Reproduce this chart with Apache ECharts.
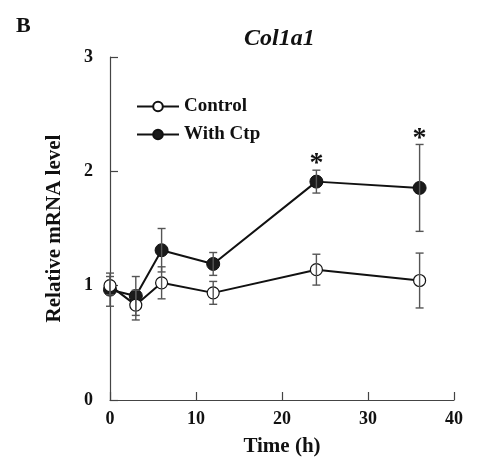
<!DOCTYPE html>
<html>
<head>
<meta charset="utf-8">
<script src="https://cdn.jsdelivr.net/npm/echarts@6/dist/echarts.min.js"></script>
<style>
html,body{margin:0;padding:0;background:#fff;}
#chart{width:500px;height:467px;}
</style>
</head>
<body>
<div id="chart"></div>
<script>
// Data
var times = [0, 3, 6, 12, 24, 36];
var controlMean = [1.00, 0.83, 1.025, 0.937, 1.14, 1.045];
var controlErr  = [0.08, 0.13, 0.14, 0.10, 0.135, 0.24];
var ctpMean = [0.965, 0.91, 1.31, 1.19, 1.91, 1.855];
var ctpErr  = [0.145, 0.17, 0.19, 0.10, 0.10, 0.38];
var ctpSig  = [false, false, false, false, true, true];
var xTicks = [0, 10, 20, 30, 40];
var yTicks = [0, 1, 2, 3];

var serif = "'Liberation Serif','DejaVu Serif',serif";

function pairs(xs, ys) { return xs.map(function (x, i) { return [x, ys[i]]; }); }
function errData(xs, m, e, sig) {
  return xs.map(function (x, i) { return [x, m[i] - e[i], m[i] + e[i], sig ? (sig[i] ? 1 : 0) : 0]; });
}

function errRender(params, api) {
  var x = api.value(0);
  var lo = api.coord([x, api.value(1)]);
  var hi = api.coord([x, api.value(2)]);
  var w = 4;
  var st = { stroke: '#555', lineWidth: 1.4 };
  var children = [
    { type: 'line', shape: { x1: lo[0], y1: lo[1], x2: hi[0], y2: hi[1] }, style: st },
    { type: 'line', shape: { x1: lo[0] - w, y1: lo[1], x2: lo[0] + w, y2: lo[1] }, style: st },
    { type: 'line', shape: { x1: hi[0] - w, y1: hi[1], x2: hi[0] + w, y2: hi[1] }, style: st }
  ];
  if (api.value(3) === 1) {
    children.push({
      type: 'text',
      style: { text: '*', x: hi[0], y: hi[1] + 8, align: 'center', verticalAlign: 'bottom',
               font: 'bold 28px ' + serif, fill: '#111' }
    });
  }
  return { type: 'group', children: children };
}

var chart = echarts.init(document.getElementById('chart'));
chart.setOption({
  animation: false,
  backgroundColor: '#fff',
  graphic: [
    { type: 'text', left: 16, top: 15, style: { text: 'B', font: 'bold 22px ' + serif, fill: '#111' } },
    { type: 'text', left: 244, top: 27, style: { text: 'Col1a1', font: 'italic bold 24px ' + serif, fill: '#111' } }
  ],
  grid: { left: 110, right: 46, top: 57, bottom: 67 },
  legend: {
    orient: 'vertical', left: 131, top: 92, itemGap: 9,
    itemWidth: 42, itemHeight: 12,
    textStyle: { fontFamily: serif, fontWeight: 'bold', fontSize: 19, color: '#111' },
    data: ['Control', 'With Ctp']
  },
  xAxis: {
    type: 'value', min: 0, max: 40, interval: 10,
    name: 'Time (h)', nameLocation: 'middle', nameGap: 36,
    nameTextStyle: { fontFamily: serif, fontWeight: 'bold', fontSize: 21, color: '#111' },
    axisLine: { lineStyle: { color: '#444', width: 1.2 } },
    axisTick: { inside: true, length: 8, lineStyle: { color: '#444', width: 1.2 } },
    axisLabel: { fontFamily: serif, fontWeight: 'bold', fontSize: 18, color: '#111', margin: 10,
                 formatter: function (v) { return xTicks.indexOf(v) >= 0 ? String(v) : ''; } },
    splitLine: { show: false }
  },
  yAxis: {
    type: 'value', min: 0, max: 3, interval: 1,
    name: 'Relative mRNA level', nameLocation: 'middle', nameGap: 45,
    nameTextStyle: { fontFamily: serif, fontWeight: 'bold', fontSize: 21, color: '#111' },
    axisLine: { show: true, lineStyle: { color: '#444', width: 1.2 } },
    axisTick: { show: true, inside: true, length: 8, lineStyle: { color: '#444', width: 1.2 } },
    axisLabel: { fontFamily: serif, fontWeight: 'bold', fontSize: 18, color: '#111', margin: 17,
                 formatter: function (v) { return yTicks.indexOf(v) >= 0 ? String(v) : ''; } },
    splitLine: { show: false }
  },
  series: [
    {
      name: 'With Ctp', type: 'line', data: pairs(times, ctpMean),
      symbol: 'circle', symbolSize: 13, z: 3,
      lineStyle: { color: '#111', width: 2 },
      itemStyle: { color: '#1a1a1a', borderColor: '#111', borderWidth: 1 }
    },
    {
      name: 'Control', type: 'line', data: pairs(times, controlMean),
      symbol: 'circle', symbolSize: 12, z: 3,
      lineStyle: { color: '#111', width: 2 },
      itemStyle: { color: '#fff', borderColor: '#111', borderWidth: 1.2 }
    },
    {
      type: 'custom', name: 'ctpErr', renderItem: errRender, z: 4,
      data: errData(times, ctpMean, ctpErr, ctpSig),
      encode: { x: 0, y: [1, 2] }, silent: true
    },
    {
      type: 'custom', name: 'ctrlErr', renderItem: errRender, z: 4,
      data: errData(times, controlMean, controlErr, null),
      encode: { x: 0, y: [1, 2] }, silent: true
    }
  ]
});
</script>
</body>
</html>
